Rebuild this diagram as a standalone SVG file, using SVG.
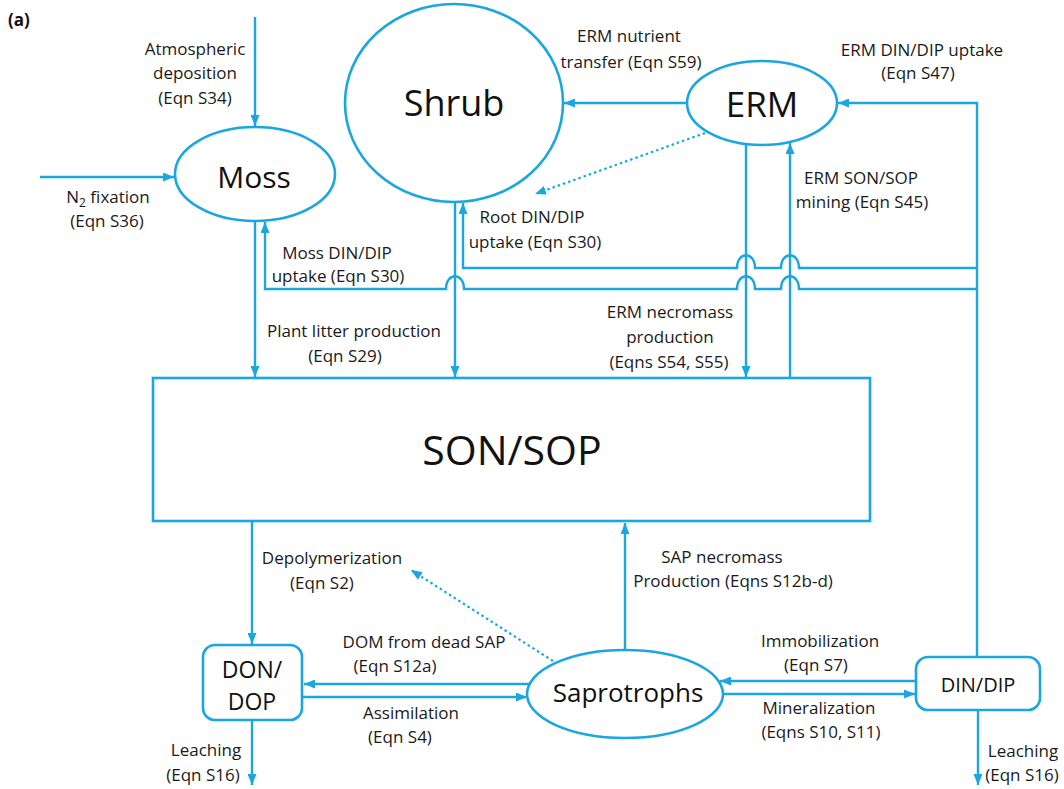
<svg xmlns="http://www.w3.org/2000/svg" width="1064" height="789" viewBox="0 0 1064 789">
<style>
.n{fill:#fff;stroke:#1aa7e1;stroke-width:2.6}
.c{fill:none;stroke:#1aa7e1;stroke-width:2.4}
.d{fill:none;stroke:#1aa7e1;stroke-width:2.2;stroke-dasharray:2.5 3}
.l{font-family:"Open Sans","Liberation Sans",sans-serif;font-size:17px;fill:#1a1a1a;text-anchor:middle}
.t{font-family:"Open Sans","Liberation Sans",sans-serif;fill:#111;text-anchor:middle}
</style>
<defs>
<marker id="ah" markerUnits="userSpaceOnUse" markerWidth="11" markerHeight="9" refX="11" refY="4.5" orient="auto">
<path d="M0,0 L11,4.5 L0,9 z" fill="#1aa7e1"/>
</marker>
</defs>
<rect width="1064" height="789" fill="#fff"/>
<text x="8" y="26" style="font-family:'Open Sans','Liberation Sans',sans-serif;font-size:17px;font-weight:700;fill:#111">(a)</text>

<g id="connectors">
<path class="c" d="M255,17 L255,126" marker-end="url(#ah)"/>
<path class="c" d="M40,177 L174,177" marker-end="url(#ah)"/>
<path class="c" d="M255,221 L255,377" marker-end="url(#ah)"/>
<path class="c" d="M455,202 L455,377" marker-end="url(#ah)"/>
<path class="c" d="M746,144 L746,377" marker-end="url(#ah)"/>
<path class="c" d="M790,378 L790,143" marker-end="url(#ah)"/>
<path class="c" d="M687,103 L564,103" marker-end="url(#ah)"/>
<path class="d" d="M705,133 L535,194" marker-end="url(#ah)"/>
<path class="c" d="M977,657 L977,103 L838,103" marker-end="url(#ah)"/>
<path class="c" d="M977,268 L799,268 C799,251 781,251 781,268 L755,268 C755,251 737,251 737,268 L463,268 L463,203" marker-end="url(#ah)"/>
<path class="c" d="M977,289 L799,289 C799,272 781,272 781,289 L755,289 C755,272 737,272 737,289 L464,289 C464,272 446,272 446,289 L265,289 L265,222" marker-end="url(#ah)"/>
<path class="c" d="M252,521 L252,644" marker-end="url(#ah)"/>
<path class="c" d="M252,720 L252,785" marker-end="url(#ah)"/>
<path class="c" d="M529,684 L304,684" marker-end="url(#ah)"/>
<path class="c" d="M303,697 L527,697" marker-end="url(#ah)"/>
<path class="c" d="M625,650 L625,523" marker-end="url(#ah)"/>
<path class="d" d="M553,661 L411,570" marker-end="url(#ah)"/>
<path class="c" d="M916,681 L720,681" marker-end="url(#ah)"/>
<path class="c" d="M721,694 L915,694" marker-end="url(#ah)"/>
<path class="c" d="M978,710 L978,785" marker-end="url(#ah)"/>
</g>

<g id="moss"><ellipse class="n" cx="255" cy="174" rx="80" ry="47"/><text class="t" x="254" y="188" font-size="30">Moss</text></g>
<g id="shrub"><ellipse class="n" cx="454" cy="103" rx="109" ry="99"/><text class="t" x="454" y="116" font-size="36">Shrub</text></g>
<g id="erm"><ellipse class="n" cx="762" cy="103" rx="75" ry="42"/><text class="t" x="762" y="117" font-size="35">ERM</text></g>
<g id="sonsop"><rect class="n" x="153" y="378" width="717" height="143"/><text class="t" x="512" y="465" font-size="41">SON/SOP</text></g>
<g id="dondop"><rect class="n" x="203" y="645" width="99" height="75" rx="12"/><text class="t" x="252" y="678" font-size="23">DON/</text><text class="t" x="252" y="710" font-size="23">DOP</text></g>
<g id="saprotrophs"><ellipse class="n" cx="625" cy="694" rx="98" ry="44"/><text class="t" x="628" y="702" font-size="26">Saprotrophs</text></g>
<g id="dindip"><rect class="n" x="916" y="657" width="124" height="53" rx="12"/><text class="t" x="978" y="692" font-size="20">DIN/DIP</text></g>

<g id="labels">
<text class="l" x="195" y="55">Atmospheric</text>
<text class="l" x="195" y="79">deposition</text>
<text class="l" x="195" y="104">(Eqn S34)</text>
<text class="l" x="108" y="203">N<tspan font-size="12" dy="4">2</tspan><tspan dy="-4"> fixation</tspan></text>
<text class="l" x="107" y="227">(Eqn S36)</text>
<text class="l" x="337" y="259">Moss DIN/DIP</text>
<text class="l" x="338" y="282">uptake (Eqn S30)</text>
<text class="l" x="532" y="223">Root DIN/DIP</text>
<text class="l" x="535" y="248">uptake (Eqn S30)</text>
<text class="l" x="629" y="42">ERM nutrient</text>
<text class="l" x="631" y="68">transfer (Eqn S59)</text>
<text class="l" x="922" y="56">ERM DIN/DIP uptake</text>
<text class="l" x="918" y="79">(Eqn S47)</text>
<text class="l" x="861" y="184">ERM SON/SOP</text>
<text class="l" x="862" y="208">mining (Eqn S45)</text>
<text class="l" x="354" y="337">Plant litter production</text>
<text class="l" x="345" y="362">(Eqn S29)</text>
<text class="l" x="670" y="318">ERM necromass</text>
<text class="l" x="670" y="343">production</text>
<text class="l" x="669" y="368">(Eqns S54, S55)</text>
<text class="l" x="332" y="564">Depolymerization</text>
<text class="l" x="322" y="589">(Eqn S2)</text>
<text class="l" x="722" y="563">SAP necromass</text>
<text class="l" x="733" y="587">Production (Eqns S12b-d)</text>
<text class="l" x="424" y="648">DOM from dead SAP</text>
<text class="l" x="395" y="672">(Eqn S12a)</text>
<text class="l" x="411" y="719">Assimilation</text>
<text class="l" x="400" y="743">(Eqn S4)</text>
<text class="l" x="820" y="647">Immobilization</text>
<text class="l" x="816" y="671">(Eqn S7)</text>
<text class="l" x="819" y="714">Mineralization</text>
<text class="l" x="821" y="738">(Eqns S10, S11)</text>
<text class="l" x="206" y="756">Leaching</text>
<text class="l" x="203" y="781">(Eqn S16)</text>
<text class="l" x="1023" y="757">Leaching</text>
<text class="l" x="1022" y="781">(Eqn S16)</text>
</g>
</svg>
